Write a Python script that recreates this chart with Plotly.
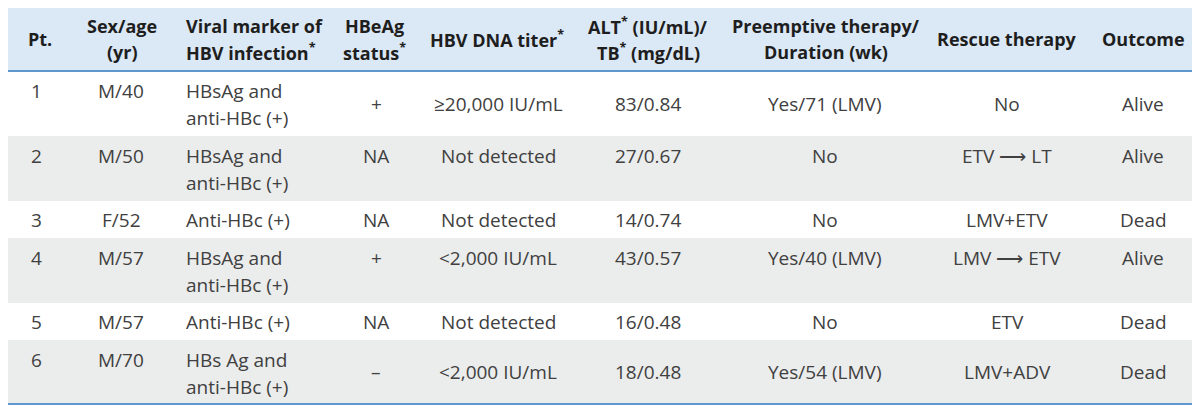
import plotly.graph_objects as go

# ---- data ----
headers = ["Pt.", "Sex/age\n(yr)", "Viral marker of\nHBV infection<sup>*</sup>", "HBeAg\nstatus<sup>*</sup>",
           "HBV DNA titer<sup>*</sup>", "ALT<sup>*</sup> (IU/mL)/\nTB<sup>*</sup> (mg/dL)",
           "Preemptive therapy/\nDuration (wk)", "Rescue therapy", "Outcome"]
pt = ["1", "2", "3", "4", "5", "6"]
sex_age = ["M/40", "M/50", "F/52", "M/57", "M/57", "M/70"]
viral_marker = ["HBsAg and\nanti-HBc (+)", "HBsAg and\nanti-HBc (+)", "Anti-HBc (+)",
                "HBsAg and\nanti-HBc (+)", "Anti-HBc (+)", "HBs Ag and\nanti-HBc (+)"]
hbeag = ["+", "NA", "NA", "+", "NA", "–"]
dna_titer = ["≥20,000 IU/mL", "Not detected", "Not detected", "<2,000 IU/mL", "Not detected", "<2,000 IU/mL"]
alt_tb = ["83/0.84", "27/0.67", "14/0.74", "43/0.57", "16/0.48", "18/0.48"]
preemptive = ["Yes/71 (LMV)", "No", "No", "Yes/40 (LMV)", "No", "Yes/54 (LMV)"]
rescue = ["No", "ETV ⟶ LT", "LMV+ETV", "LMV ⟶ ETV", "ETV", "LMV+ADV"]
outcome = ["Alive", "Alive", "Dead", "Alive", "Dead", "Dead"]

columns = [pt, sex_age, viral_marker, hbeag, dna_titer, alt_tb, preemptive, rescue, outcome]

# ---- layout / style ----
W, H = 1200, 409
PAGE_OFF = 8  # default page body margin; axis ranges compensate so coordinates are page pixels
col_x = [36, 121, 185, 376, 498, 648, 825, 1007, 1143]
col_anchor = ["center", "center", "left", "center", "center", "center", "center", "center", "center"]
head_x = [40, 122, 185, 374, 497, 648, 826, 1007, 1143]
# single-line cells placement per row ("mid" = centred in row, "top" = on first text line)
row_valign = ["mid", "top", "mid", "top", "mid", "mid"]
table_left = 8
y_top = 7
y_head_bot = 71
row_heights = [65, 65, 37, 65, 37, 64]
line_gap = 27
first_line = 20

blue = "#5f97cf"
head_bg = "#dbe8f5"
gray_bg = "#ebecec"
head_col = "#1e1e1e"
body_col = "#404040"
FONT = "Open Sans"
HEAD_SIZE = 18
BODY_SIZE = 19

fig = go.Figure()
shapes = []
annotations = []

# header background
shapes.append(dict(type="rect", xref="x", yref="y", x0=table_left, x1=W + 20, y0=y_top, y1=y_head_bot,
                   fillcolor=head_bg, line=dict(width=0), layer="below"))

# row backgrounds
row_tops = []
y = y_head_bot
for i, h in enumerate(row_heights):
    row_tops.append(y)
    if i % 2 == 1:
        shapes.append(dict(type="rect", xref="x", yref="y", x0=table_left, x1=W + 20, y0=y, y1=y + h,
                           fillcolor=gray_bg, line=dict(width=0), layer="below"))
    y += h
y_bottom = y

for yy in (y_top, y_head_bot, y_bottom):
    shapes.append(dict(type="line", xref="x", yref="y", x0=table_left, x1=W + 20, y0=yy, y1=yy,
                       line=dict(color=blue, width=2)))

def add_text(x, y, text, anchor, bold, color, size):
    annotations.append(dict(x=x, y=y, xref="x", yref="y", text=text, showarrow=False,
                            xanchor=anchor, yanchor="middle", borderpad=0,
                            font=dict(family=FONT, size=size, color=color,
                                      weight=("bold" if bold else "normal"))))

# header texts
head_mid = (y_top + y_head_bot) / 2
for c, htxt in enumerate(headers):
    lines = htxt.split("\n")
    n = len(lines)
    for k, ln in enumerate(lines):
        yy = head_mid + (k - (n - 1) / 2) * 26
        add_text(head_x[c], yy, ln, col_anchor[c], True, head_col, HEAD_SIZE)

# body texts
for r in range(len(pt)):
    top = row_tops[r]
    h = row_heights[r]
    mid = top + h / 2
    for c, col in enumerate(columns):
        lines = col[r].split("\n")
        if len(lines) > 1:
            for k, ln in enumerate(lines):
                add_text(col_x[c], top + first_line + k * line_gap, ln, col_anchor[c], False, body_col, BODY_SIZE)
        else:
            if h > 45 and (c < 2 or row_valign[r] == "top"):
                yy = top + first_line
            else:
                yy = mid
            add_text(col_x[c], yy, lines[0], col_anchor[c], False, body_col, BODY_SIZE)

fig.update_layout(
    width=W, height=H, margin=dict(l=0, r=0, t=0, b=0),
    paper_bgcolor="white", plot_bgcolor="white",
    xaxis=dict(range=[PAGE_OFF, W + PAGE_OFF], visible=False, fixedrange=True),
    yaxis=dict(range=[H + PAGE_OFF, PAGE_OFF], visible=False, fixedrange=True),
    shapes=shapes, annotations=annotations, showlegend=False,
)
fig.write_html("out.html")
